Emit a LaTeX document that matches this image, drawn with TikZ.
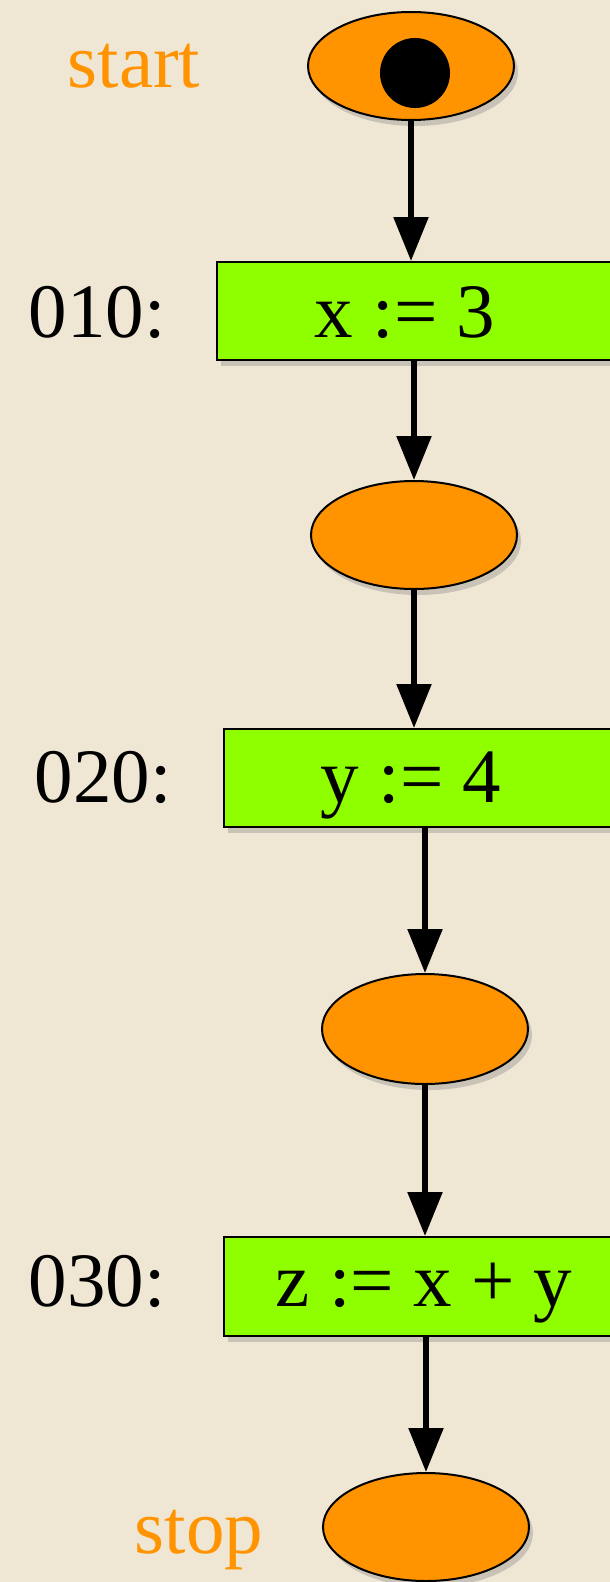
\documentclass[tikz,border=0pt]{standalone}
\usepackage{fontspec}
\setmainfont{Liberation Serif}
\usetikzlibrary{positioning}
\usetikzlibrary{arrows.meta}
\usetikzlibrary{shapes.geometric}
\usetikzlibrary{shadows}
\definecolor{paper}{RGB}{239,231,212}
\definecolor{orange}{RGB}{255,148,0}
\definecolor{lime}{RGB}{143,255,0}

\begin{document}
\begin{tikzpicture}[x=1pt, y=-1pt,
    every node/.style={font=\fontsize{77}{80}\selectfont},
    soft/.style={drop shadow={opacity=0.35, shadow xshift=4pt, shadow yshift=-6pt}},
    place/.style={ellipse, draw, line width=2pt, fill=orange, inner sep=0pt,
        minimum width=206pt, minimum height=108pt, soft},
    stmt/.style={rectangle, draw, line width=2pt, fill=lime, inner sep=0pt,
        minimum width=420pt, minimum height=98pt, anchor=north west, soft},
    lbl/.style={anchor=base, inner sep=0pt},
    flow/.style={line width=5.5pt, -{Triangle[length=44pt,width=34pt]}}]
    \useasboundingbox (0,0) rectangle (610,1582);
    \fill[paper] (0,0) rectangle (610,1582);
    \clip (0,0) rectangle (610,1582);

    % places
    \node[place] (start) at (411,66) {};
    \node[circle, fill=black, minimum size=70pt, inner sep=0pt] (dot) at (415,73) {};
    \node[place] (p1) at (414,535) {};
    \node[place, minimum height=110pt] (p2) at (425,1029) {};
    \node[place] (stop) at (426,1527) {};

    % statements
    \node[stmt] (s010) at (216,261) {};
    \node[stmt] (s020) at (223,728) {};
    \node[stmt, minimum height=99pt] (s030) at (223,1236) {};
    \node[lbl] (c010) at (405,337) {x := 3};
    \node[lbl] (c020) at (411,802) {y := 4};
    \node[lbl] (c030) at (424,1306) {z := x + y};

    % labels
    \node[lbl, orange] (startlbl) at (134,87) {start};
    \node[lbl] (l010) at (97,337) {010:};
    \node[lbl] (l020) at (103,802) {020:};
    \node[lbl] (l030) at (97,1306) {030:};
    \node[lbl, orange] (stoplbl) at (199,1553) {stop};

    % flow
    \draw[flow] (start.south) -- (start.south |- s010.north);
    \draw[flow] (p1.north |- s010.south) -- (p1.north);
    \draw[flow] (p1.south) -- (p1.south |- s020.north);
    \draw[flow] (p2.north |- s020.south) -- (p2.north);
    \draw[flow] (p2.south) -- (p2.south |- s030.north);
    \draw[flow] (stop.north |- s030.south) -- (stop.north);
\end{tikzpicture}
\end{document}
